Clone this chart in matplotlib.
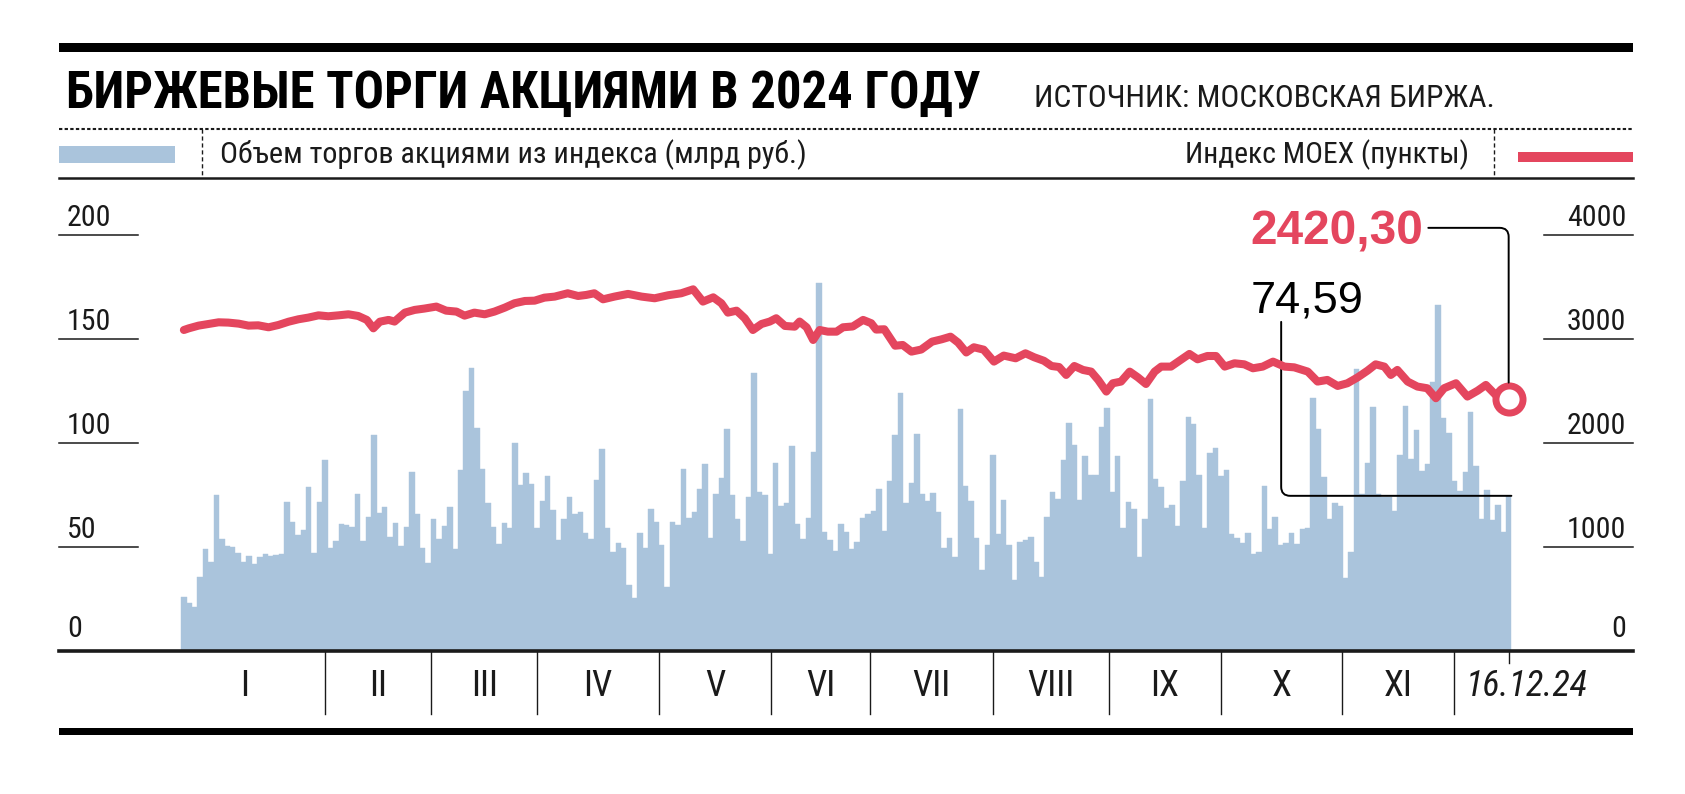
import os
import numpy as np
import matplotlib
matplotlib.use("Agg")
import matplotlib.pyplot as plt
from matplotlib import font_manager as fm
from matplotlib.patches import Rectangle
from matplotlib.lines import Line2D

# daily trading volume, bln rub (one bar per trading day)
volume = [
    26, 23, 21, 35.4, 49, 42.8, 75, 54, 50.5, 50, 47, 43, 45.7, 42, 45, 46.5, 45.7, 46, 46.6, 71.5,
    62, 55.8, 58, 79, 47, 71.6, 92, 49.7, 53, 61, 60.6, 59.5, 75.5, 53, 64.4, 104, 66.5, 69, 55, 61.5,
    50.5, 59.5, 86, 66, 49.5, 42.5, 63.5, 54, 60, 69, 49, 87, 125, 136, 107, 87.7, 71, 59.6, 51.4, 61.4,
    59.3, 100, 80, 85.6, 80.3, 59.3, 72, 84, 68, 53.5, 63.6, 74, 66, 67, 56.7, 54, 82.4, 97, 59.3, 47.4,
    52, 49.5, 31.7, 25.5, 56.6, 49.7, 68.3, 62, 50.8, 31, 62, 60.6, 87.5, 64, 67, 78, 90, 54.5, 75.5, 83,
    106.7, 75, 63.5, 52.7, 74.2, 133.7, 76.6, 74.8, 46.8, 90.4, 69.5, 71, 98.6, 61, 53.7, 64, 95.7, 177, 57, 53.4,
    48, 61, 57, 49, 52.2, 63.8, 66, 67.3, 78, 57.7, 81.6, 104, 124, 71, 80.8, 104.3, 75.5, 72.3, 76, 66.8,
    49.7, 54.3, 45.4, 116.3, 79.5, 72.3, 54.5, 39, 50.8, 94, 56, 72.6, 50.8, 34, 52.2, 53.2, 55, 42.6, 35.6, 64.6,
    76.3, 73, 91.8, 109.5, 98.9, 72.6, 93.8, 84.6, 84.6, 107.5, 116.8, 76.5, 93.8, 59.3, 71.5, 68.3, 45, 63.6, 121, 82.5,
    79, 68.9, 70, 60.1, 81.7, 112.5, 109, 84.6, 59.3, 95, 97.4, 84.1, 87, 56.1, 54.3, 51.8, 56.9, 46.6, 47.4, 79.3,
    58.8, 64.6, 50.8, 51.8, 56.6, 51.4, 58.7, 59.1, 121.6, 106.9, 83.7, 63.3, 71, 69.5, 35.3, 47.6, 135.7, 75.5, 90.5, 117.1,
    75.6, 74.2, 74.2, 67.3, 94, 117.8, 92.4, 106, 86.4, 90, 129.3, 166.3, 112, 105, 81.7, 77, 86, 114.7, 88.8, 63.3,
    77.6, 62.8, 70, 57.2, 74.59,
]

# MOEX index, points (x = trading day number)
moex_day = [
    0, 0.9, 2.7, 4.5, 6.4, 8.2, 10.1, 11.9, 13.7, 15.6, 17.4, 19.3, 21.1, 22.9, 24.8, 26.6, 28.5, 30.3, 32.1, 33.7,
    34.9, 36.1, 37.7, 38.8, 40.7, 42.5, 44.3, 46.5, 48.3, 50.2, 51.7, 53.5, 55.4, 57.2, 59.1, 60.9, 62.8, 64.6, 66.4, 68.3,
    70.7, 72.6, 74.1, 75.6, 77.2, 79.3, 81.8, 84.3, 86.7, 89.2, 91.6, 93.8, 95.6, 97.5, 99, 100.2, 101.8, 103.3, 104.8, 106.4,
    107.9, 109.1, 110.7, 112.5, 113.4, 114.7, 115.9, 117.1, 118.6, 120.2, 121.4, 123.2, 125.1, 126.6, 127.5, 129, 131, 132.4, 134, 135.8,
    137.8, 139.6, 141.2, 142.6, 144.1, 145.5, 147.3, 149.2, 151, 153.2, 155, 156.6, 158.4, 159.8, 161.2, 162.5, 164, 165.6, 167.1, 168.4,
    169.9, 171.1, 172.6, 174.2, 175.7, 177.2, 178.8, 180, 181.8, 183.6, 185.2, 186.7, 188.5, 190.1, 191.7, 193.5, 195.3, 196.9, 198.7, 200.6,
    202.7, 204.5, 207, 208.8, 210.6, 212.5, 214.3, 216.2, 218, 219.5, 221.1, 222.3, 223.5, 225.4, 227.2, 229, 230.6, 232.1, 234.3, 236.4,
    238.3, 239.8, 241.6, 244,
]
moex = [
    3086, 3102, 3128, 3144, 3160, 3157, 3147, 3128, 3131, 3112, 3134, 3166, 3189, 3205, 3227, 3218, 3227, 3237, 3221, 3183,
    3102, 3166, 3183, 3167, 3253, 3279, 3292, 3311, 3272, 3263, 3224, 3253, 3237, 3263, 3301, 3343, 3365, 3368, 3397, 3407,
    3439, 3413, 3423, 3439, 3381, 3407, 3433, 3407, 3391, 3420, 3439, 3477, 3359, 3400, 3343, 3253, 3272, 3199, 3086, 3144,
    3167, 3199, 3125, 3118, 3167, 3112, 2990, 3086, 3070, 3070, 3112, 3120, 3183, 3151, 3090, 3093, 2935, 2942, 2878, 2898,
    2974, 2997, 3022, 2965, 2870, 2920, 2897, 2782, 2840, 2814, 2862, 2824, 2790, 2740, 2730, 2654, 2740, 2702, 2686, 2606,
    2494, 2574, 2590, 2686, 2631, 2567, 2686, 2734, 2734, 2798, 2856, 2804, 2836, 2836, 2734, 2766, 2756, 2718, 2734, 2782,
    2734, 2727, 2686, 2590, 2606, 2548, 2574, 2631, 2695, 2756, 2734, 2654, 2702, 2590, 2542, 2526, 2430, 2526, 2574, 2446,
    2503, 2558, 2462, 2420.30,
]

months = ["I", "II", "III", "IV", "V", "VI", "VII", "VIII", "IX", "X", "XI"]
month_edges = [-3.4, 25.9, 45.5, 65.1, 87.5, 108.1, 126.4, 149.0, 170.4, 191.0, 213.3, 233.9]
last_date = "16.12.24"
left_ticks = [0, 50, 100, 150, 200]
right_ticks = [0, 1000, 2000, 3000, 4000]

title = "БИРЖЕВЫЕ ТОРГИ АКЦИЯМИ В 2024 ГОДУ"
source = "ИСТОЧНИК: МОСКОВСКАЯ БИРЖА."
label_vol = "Объем торгов акциями из индекса (млрд руб.)"
label_idx = "Индекс MOEX (пункты)"

RED = "#e4465e"
BLUE = "#aac4dc"
INK = "#1a1a1a"

# look for a condensed face; fall back to Liberation Sans
files = {os.path.basename(p): p for p in fm.findSystemFonts() + [f.fname for f in fm.fontManager.ttflist]}


def pick(cands, family="Liberation Sans", **kw):
    for c in cands:
        if c in files:
            return fm.FontProperties(fname=files[c])
    return fm.FontProperties(family=family, **kw)


REG = pick(["LiberationSansNarrow-Regular.ttf", "RobotoCondensed-Regular.ttf", "DejaVuSansCondensed.ttf"])
BLACK = pick(["RobotoCondensed-Black.ttf", "RobotoCondensed-ExtraBold.ttf", "LiberationSansNarrow-Bold.ttf",
              "RobotoCondensed-Bold.ttf", "DejaVuSansCondensed-Bold.ttf"], weight="bold")
ITAL = pick(["LiberationSansNarrow-Italic.ttf", "RobotoCondensed-Italic.ttf", "DejaVuSansCondensed-Oblique.ttf"],
            style="italic")


def fp(base, size):
    p = base.copy()
    p.set_size(size)
    return p


W, H = 1685, 794


def fx(px):
    return px / W


def fy(py):
    return 1 - py / H


fig = plt.figure(figsize=(W / 100, H / 100), dpi=100)
ax = fig.add_axes([fx(59), fy(651), fx(1633) - fx(59), fy(180) - fy(651)])
ax.set_xlim(-23.0, 266.9)
ax.set_ylim(0, 226.4)
ax2 = ax.twinx()
ax2.set_ylim(0, 226.4 * 20)
for a in (ax, ax2):
    a.set_axis_off()

days = np.arange(len(volume))
ax.bar(days, volume, width=1.0, color=BLUE, edgecolor=BLUE, linewidth=0.3, zorder=1)
ax.axhline(0, color=INK, lw=2.6, zorder=3, clip_on=False)

ax2.plot(moex_day, moex, color=RED, lw=5.8, solid_capstyle="round", solid_joinstyle="round", zorder=4)
ax2.plot(moex_day[-1], moex[-1], "o", ms=19.5, mfc="white", mec=RED, mew=5, zorder=5)

# short grid stubs and tick labels
ytr = ax.get_yaxis_transform()
for v in left_ticks:
    if v:
        ax.plot([0, 0.0499], [v, v], transform=ytr, color=INK, lw=1.1, clip_on=False)
    ax.annotate(str(v), xy=(0.005, v), xycoords=ytr, xytext=(0, 6 if v == 0 else 2),
                textcoords="offset points", ha="left", va="bottom", fontproperties=fp(REG, 21.5), color=INK)
ytr2 = ax2.get_yaxis_transform()
for v in right_ticks:
    if v:
        ax2.plot([0.9435, 1.0], [v, v], transform=ytr2, color=INK, lw=1.1, clip_on=False)
    ax2.annotate(str(v), xy=(0.9956, v), xycoords=ytr2, xytext=(0, 6 if v == 0 else 2),
                 textcoords="offset points", ha="right", va="bottom", fontproperties=fp(REG, 21.5), color=INK)

# month axis below the plot
xtr = ax.get_xaxis_transform()
for e in month_edges[1:]:
    ax.plot([e, e], [0, -0.134], transform=xtr, color=INK, lw=1.0, clip_on=False)
ax.plot([days[-1], days[-1]], [0, -0.026], transform=xtr, color=INK, lw=1.0, clip_on=False)
for m, a, b in zip(months, month_edges[:-1], month_edges[1:]):
    ax.text((a + b) / 2, -0.0743, m, transform=xtr, ha="center", va="center",
            fontproperties=fp(REG, 26), color=INK)
ax.text(month_edges[-1] + 2.2, -0.0743, last_date, transform=xtr, ha="left", va="center",
        fontproperties=fp(ITAL, 26), color=INK)

# callouts
ax.text(196.4, 195.4, "2420,30", family="Liberation Sans", fontsize=34.5, fontweight="bold", color=RED,
        va="baseline")
ax.text(196.4, 162.5, "74,59", family="Liberation Sans", fontsize=32.5, color="black", va="baseline")
ax2.annotate("", xy=(moex_day[-1], moex[-1]), xytext=(229.2, 4068),
             arrowprops=dict(arrowstyle="-", connectionstyle="angle,angleA=0,angleB=90,rad=9",
                             shrinkA=0, shrinkB=12, lw=1.4, color="black"), zorder=6)
ax.annotate("", xy=(days[-1] + 0.5, volume[-1]), xytext=(202.1, 158.2),
            arrowprops=dict(arrowstyle="-", connectionstyle="angle,angleA=90,angleB=0,rad=9",
                            shrinkA=0, shrinkB=0, lw=1.4, color="black"), zorder=6)


# header: rules, title, legend row
def rect(x0, y0, x1, y1, c):
    fig.add_artist(Rectangle((fx(x0), fy(y1)), fx(x1) - fx(x0), (y1 - y0) / H, color=c,
                             transform=fig.transFigure, lw=0))


rect(59, 43, 1633, 52, "black")
rect(59, 728, 1633, 735, "black")
rect(59, 146, 175, 163, BLUE)
rect(1518, 152, 1633, 162, RED)
fig.add_artist(Line2D([fx(59), fx(1633)], [fy(129), fy(129)], color=INK, lw=1.5, dashes=(1.6, 1.1),
                      transform=fig.transFigure))
fig.add_artist(Line2D([fx(59), fx(1633)], [fy(178), fy(178)], color=INK, lw=1.8, transform=fig.transFigure))
for x in (202, 1494):
    fig.add_artist(Line2D([fx(x), fx(x)], [fy(129), fy(178)], color=INK, lw=1.0, dashes=(3, 2),
                          transform=fig.transFigure))

t_title = fig.text(fx(66), fy(107.5), title, fontproperties=fp(BLACK, 34), color="black", va="baseline")
t_src = fig.text(fx(1034), fy(107), source, fontproperties=fp(REG, 24), color=INK, va="baseline")
t_vol = fig.text(fx(220), fy(163), label_vol, fontproperties=fp(REG, 22), color=INK, va="baseline")
t_idx = fig.text(fx(1469), fy(163), label_idx, fontproperties=fp(REG, 22), color=INK, va="baseline",
                 ha="right")

# fit header texts to their widths in the layout (title may also grow a little)
fig.canvas.draw()
r = fig.canvas.get_renderer()
for t, width, grow in ((t_title, 917, True), (t_src, 463, False), (t_vol, 586, False), (t_idx, 284, False)):
    w = t.get_window_extent(r).width
    if w > width or grow:
        t.set_fontsize(min(t.get_fontsize() * width / w, 37))

fig.savefig("out.png", dpi=100, facecolor="white")
